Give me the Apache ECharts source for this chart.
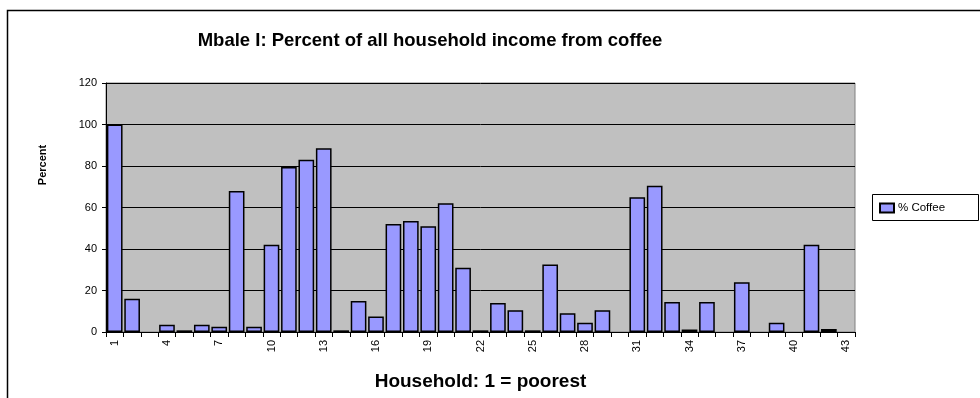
<!DOCTYPE html>
<html>
<head>
<meta charset="utf-8">
<style>
  html, body { margin: 0; padding: 0; background: #fff; }
  #chart { width: 980px; height: 398px; }
</style>
<script src="https://cdn.jsdelivr.net/npm/echarts@6/dist/echarts.min.js"></script>
</head>
<body>
<div id="chart"></div>
<script>
// Households ranked from poorest (1) to richest (43)
var households = [];
for (var i = 1; i <= 43; i++) households.push(String(i));

// Share of household income coming from coffee, in percent (null = no coffee income)
var coffeeShare = [
  100, 16, null, 3.5, 0.8, 3.5, 2.5, 68, 2.5, 42,
  79.5, 83, 88.5, 0.8, 15, 7.5, 52, 53.5, 51, 62,
  31, 0.8, 14, 10.5, 0.8, 32.5, 9, 4.5, 10.5, null,
  65, 70.5, 14.5, 1.2, 14.5, null, 24, null, 4.5, null,
  42, 1.5, null
];

var yTicks = { min: 0, max: 120, step: 20 };

var FONT = 'Liberation Sans, Arial, sans-serif';
var chart = echarts.init(document.getElementById('chart'), null, { renderer: 'canvas' });

chart.setOption({
  animation: false,
  backgroundColor: '#ffffff',
  textStyle: { fontFamily: FONT },
  title: {
    text: 'Mbale I: Percent of all household income from coffee',
    left: 425,
    top: 26,
    textAlign: 'center',
    textStyle: { fontFamily: FONT, fontSize: 18.5, fontWeight: 'bold', color: '#000' }
  },
  graphic: [
    {
      type: 'rect',
      shape: { x: 7.5, y: 10.5, width: 1200, height: 1200 },
      style: { fill: 'none', stroke: '#000', lineWidth: 1.5 },
      silent: true
    },
    {
      type: 'rect',
      shape: { x: 872.5, y: 194.5, width: 106, height: 26 },
      style: { fill: '#fff', stroke: '#000', lineWidth: 1 },
      z: 0,
      silent: true
    },
    {
      // y-axis caption
      type: 'text',
      x: 43,
      y: 165,
      rotation: Math.PI / 2,
      style: {
        text: 'Percent',
        fontFamily: FONT,
        fontSize: 11,
        fontWeight: 'bold',
        fill: '#000',
        textAlign: 'center',
        textVerticalAlign: 'middle'
      },
      silent: true
    }
  ],
  legend: {
    left: 879,
    top: 202,
    padding: 0,
    itemWidth: 14,
    itemHeight: 9,
    itemGap: 4,
    textStyle: { fontFamily: FONT, fontSize: 11.5, color: '#000', padding: [0, 0, 0, -1] },
    data: [{ name: '% Coffee', icon: 'rect' }],
    z: 5
  },
  grid: {
    left: 106,
    right: 125,
    top: 83,
    bottom: 66,
    show: true,
    backgroundColor: '#c0c0c0',
    borderColor: '#808080',
    borderWidth: 1
  },
  xAxis: {
    type: 'category',
    data: households,
    name: 'Household: 1 = poorest',
    nameLocation: 'middle',
    nameGap: 40,
    nameTextStyle: { fontFamily: FONT, fontSize: 19, fontWeight: 'bold', color: '#000' },
    axisLine: { lineStyle: { color: '#000', width: 1 } },
    axisTick: { show: true, interval: 0, length: 5, lineStyle: { color: '#000' } },
    axisLabel: {
      interval: 2,
      rotate: 90,
      margin: 8,
      fontFamily: FONT,
      fontSize: 11,
      color: '#000'
    },
    splitLine: { show: false }
  },
  yAxis: {
    type: 'value',
    min: yTicks.min,
    max: yTicks.max,
    interval: yTicks.step,
    axisLine: { show: true, lineStyle: { color: '#000', width: 1 } },
    axisTick: { show: true, length: 4, lineStyle: { color: '#000' } },
    axisLabel: { margin: 9, fontFamily: FONT, fontSize: 11, color: '#000' },
    splitLine: { show: true, lineStyle: { color: '#000', width: 1 } }
  },
  series: [
    {
      name: '% Coffee',
      type: 'bar',
      data: coffeeShare,
      barCategoryGap: '10%',
      itemStyle: { color: '#9999ff', borderColor: '#000', borderWidth: 1.5 }
    }
  ]
});
</script>
</body>
</html>
